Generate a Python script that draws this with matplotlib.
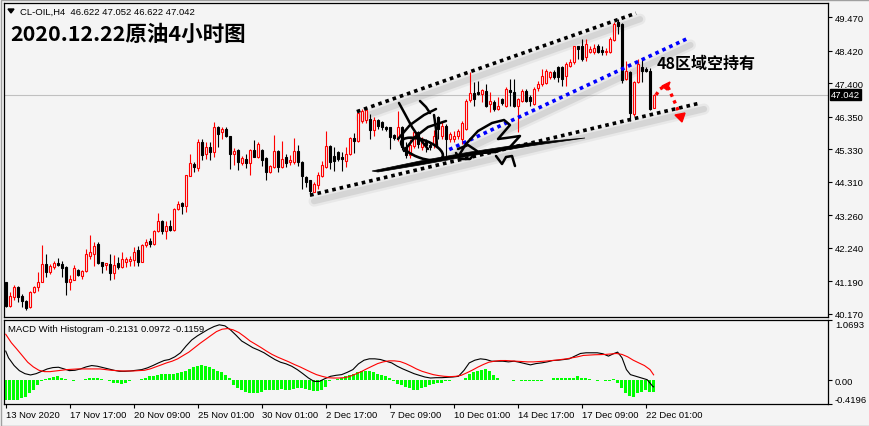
import matplotlib
matplotlib.use('Agg')
import matplotlib.pyplot as plt
from matplotlib.patches import Rectangle, Polygon, Ellipse
from matplotlib.lines import Line2D
from matplotlib.transforms import Affine2D, ScaledTranslation

# ---------------- data ----------------
opens = [41.18,40.42,40.68,41.00,40.74,40.56,40.37,40.86,41.00,41.17,
         41.73,41.47,41.63,41.76,41.73,41.65,41.17,41.24,41.55,41.35,
         41.50,41.99,42.04,42.36,41.78,41.71,41.73,41.44,41.76,41.63,
         41.78,41.83,41.86,42.16,41.80,42.31,42.46,42.36,42.77,43.07,
         42.77,42.93,42.80,43.46,43.64,43.54,44.50,44.87,44.74,45.57,
         45.18,45.40,45.23,46.02,45.88,45.96,45.76,45.18,45.30,44.90,
         45.02,44.90,45.30,45.09,45.30,45.05,44.61,44.78,45.28,44.78,
         45.09,44.92,44.92,45.28,44.92,44.45,44.37,44.00,44.21,44.50,
         44.76,45.43,45.13,45.23,45.08,44.97,45.18,45.68,45.60,46.22,
         46.26,46.28,45.93,46.26,46.17,46.04,46.02,45.78,45.69,46.02,
         45.41,45.15,45.44,45.86,45.40,45.56,45.46,45.49,46.33,45.76,
         46.07,45.66,45.66,45.76,45.66,45.96,46.87,47.09,47.13,47.06,
         47.17,46.75,46.82,46.60,46.91,46.70,47.19,47.14,46.70,46.86,
         47.17,46.96,46.75,47.24,47.37,47.42,47.59,47.77,47.90,47.90,
         47.64,47.95,48.06,48.56,48.56,48.21,48.39,48.37,48.56,48.44,
         48.37,48.37,48.77,49.31,49.26,47.54,47.75,46.44,47.43,47.90,
         47.85,47.80,46.622]
highs = [41.18,40.84,41.08,41.05,40.79,40.61,40.89,41.05,41.47,42.33,
         42.04,41.73,41.83,41.92,41.83,41.68,41.37,41.70,41.58,41.55,
         42.20,42.64,42.41,42.41,41.78,41.76,42.04,42.02,41.94,42.12,
         41.96,41.99,42.25,42.30,42.37,42.52,42.55,42.80,43.34,43.12,
         43.09,43.11,43.49,43.70,43.69,44.53,45.18,44.94,45.66,45.66,
         45.55,45.55,46.20,46.07,46.04,46.04,45.76,45.36,45.33,45.13,
         45.18,45.33,45.63,45.55,45.33,45.08,44.84,45.79,45.31,45.60,
         45.18,45.15,45.68,45.45,44.97,44.50,44.37,44.30,44.61,44.95,
         45.91,45.46,45.40,45.28,45.25,45.40,45.73,45.84,46.54,46.59,
         46.65,46.44,46.33,46.28,46.21,46.06,46.04,45.81,46.54,46.06,
         45.56,45.66,45.96,45.91,45.71,45.66,45.56,45.94,46.36,46.17,
         46.11,45.86,45.91,45.96,46.23,46.91,47.77,47.43,47.48,47.22,
         47.37,47.12,46.87,46.96,46.95,47.27,47.54,47.54,46.93,47.22,
         47.22,47.02,47.28,47.47,47.85,47.85,47.78,47.83,47.95,47.95,
         48.06,48.16,48.58,48.58,48.79,48.79,48.56,48.64,48.64,48.56,
         48.52,48.84,49.31,49.41,49.29,48.11,47.78,47.48,48.16,48.16,
         47.90,47.88,47.052]
lows = [40.39,40.39,40.60,40.53,40.37,40.30,40.35,40.83,40.89,41.15,
        41.32,41.42,41.57,41.68,41.32,40.77,40.90,41.22,41.34,41.26,
        41.47,41.89,41.68,41.73,41.45,41.54,41.24,41.26,41.58,41.60,
        41.64,41.68,41.68,41.66,41.78,42.27,42.25,42.34,42.74,42.67,
        42.50,42.78,42.78,43.41,43.30,43.36,44.48,44.63,44.66,44.99,
        45.02,45.00,45.08,45.40,45.66,45.71,44.71,44.84,44.68,44.84,
        44.74,44.53,45.08,45.05,44.82,44.38,44.58,44.75,44.61,44.73,
        44.76,44.84,44.87,44.82,44.08,44.13,43.85,43.98,44.08,44.45,
        44.73,44.71,44.66,44.95,44.66,44.76,45.15,45.21,45.56,46.16,
        46.16,45.66,45.76,45.96,45.93,45.91,45.34,45.61,45.60,45.31,
        45.05,45.05,45.36,45.36,45.31,45.25,45.31,45.36,45.66,45.66,
        45.02,45.56,45.56,45.66,45.50,45.92,46.82,46.70,47.02,46.80,
        46.65,46.49,46.54,46.57,46.72,46.65,46.70,46.65,45.86,46.82,
        46.82,46.70,46.72,47.17,47.33,47.38,47.53,47.53,47.44,47.33,
        47.33,47.90,48.00,48.16,48.11,48.11,48.34,48.32,48.34,48.29,
        48.29,48.34,48.74,48.95,47.42,47.49,46.22,46.38,47.41,47.43,
        47.76,46.57,46.622]
closes = [40.42,40.71,41.00,40.68,40.56,40.35,40.84,41.00,41.18,41.73,
          41.47,41.68,41.76,41.70,41.61,41.17,41.26,41.61,41.37,41.50,
          42.04,42.12,42.29,41.75,41.68,41.75,41.44,41.71,41.63,41.89,
          41.89,41.89,42.12,41.80,42.33,42.41,42.36,42.77,43.07,42.77,
          42.93,42.80,43.46,43.61,43.56,44.52,44.90,44.78,45.55,45.16,
          45.40,45.23,46.02,45.81,45.96,45.76,45.18,45.28,44.94,45.05,
          44.90,45.30,45.09,45.50,45.00,44.61,44.80,45.28,44.78,45.02,
          44.89,45.00,45.28,44.92,44.50,44.30,44.03,44.24,44.53,44.84,
          45.43,44.94,44.97,45.02,45.02,45.18,45.68,45.60,46.48,46.53,
          46.56,45.93,46.26,46.07,46.02,45.96,45.71,45.68,46.02,45.41,
          45.15,45.46,45.86,45.51,45.60,45.46,45.41,45.76,45.96,46.07,
          45.66,45.81,45.76,45.91,46.14,46.86,47.09,46.91,47.06,47.20,
          46.70,46.86,46.60,46.68,46.78,47.22,47.12,46.70,46.91,47.17,
          46.86,46.86,47.22,47.37,47.64,47.78,47.75,47.59,47.59,47.54,
          48.00,48.08,48.56,48.47,48.16,48.64,48.49,48.52,48.37,48.37,
          48.42,48.79,49.26,49.21,47.49,47.80,46.48,47.43,48.00,47.80,
          47.80,46.60,47.042]

hist = [-0.35,-0.35,-0.35,-0.34,-0.32,-0.29,-0.23,-0.17,-0.08,-0.02,
        0.02,0.04,0.06,0.07,0.04,0.02,0.0,-0.02,0.0,0.01,
        0.02,0.04,0.05,0.04,0.02,0.01,-0.02,-0.04,-0.05,-0.06,
        -0.04,-0.02,0.0,0.01,0.02,0.04,0.07,0.08,0.10,0.11,
        0.12,0.12,0.12,0.13,0.14,0.17,0.20,0.24,0.26,0.28,
        0.26,0.24,0.20,0.17,0.14,0.10,0.04,-0.08,-0.14,-0.17,
        -0.20,-0.22,-0.23,-0.23,-0.20,-0.17,-0.17,-0.18,-0.17,-0.16,
        -0.17,-0.17,-0.16,-0.14,-0.14,-0.16,-0.17,-0.19,-0.19,-0.17,
        -0.12,-0.02,0.01,0.02,0.04,0.07,0.10,0.12,0.14,0.16,
        0.17,0.16,0.14,0.12,0.09,0.07,0.04,-0.02,-0.06,-0.08,
        -0.12,-0.14,-0.17,-0.17,-0.14,-0.11,-0.08,-0.06,-0.05,-0.04,
        -0.02,-0.01,0.0,0.0,0.01,0.04,0.12,0.15,0.17,0.19,
        0.20,0.16,0.10,0.04,0.01,0.0,0.0,-0.01,0.0,-0.01,
        -0.01,-0.02,-0.02,-0.02,-0.01,0.0,0.01,0.04,0.05,0.04,
        0.05,0.04,0.05,0.07,0.05,0.04,0.02,0.01,
        -0.01,0.0,-0.02,-0.01,0.02,-0.04,-0.14,-0.22,-0.28,-0.29,
        -0.23,-0.20,-0.17,-0.20,-0.2131]

# MACD main line (black), sampled along the bar axis
macd_idx = [0,0.7,2.1,3.4,4.8,6.2,7.6,9.0,10.4,11.8,13.2,14.6,15.9,17.3,18.7,20.1,21.5,
            22.9,24.3,25.7,27.1,28.4,29.8,31.2,32.6,34.0,35.4,36.8,38.2,39.6,40.9,42.3,
            43.7,45.1,46.5,47.9,49.3,50.7,52.1,53.4,54.8,56.2,57.6,59.0,60.4,61.8,63.2,
            64.6,65.9,67.3,68.7,70.1,71.5,72.9,74.3,75.7,77.1,78.4,79.8,81.2,82.6,84.0,
            85.4,86.8,88.2,89.6,90.9,92.3,93.7,95.1,96.5,97.9,99.3,100.7,102.1,103.4,
            104.8,106.2,107.6,109.0,110.4,111.8,113.2,114.6,115.9,117.3,118.7,120.1,
            121.5,122.9,124.3,125.7,127.1,128.4,129.8,131.2,132.6,134.0,135.4,136.8,
            138.2,139.6,140.9,142.3,143.7,145.1,146.5,147.9,149.3,150.7,152.1,153.0,
            154.1,155.2,156.2,157.6,159.0,160.4,161.8,162]
macd_val = [0.518,0.399,0.262,0.172,0.118,0.095,0.118,0.160,0.202,0.226,0.232,0.202,
            0.172,0.178,0.202,0.238,0.262,0.250,0.226,0.202,0.178,0.160,0.160,0.166,
            0.178,0.190,0.220,0.262,0.309,0.351,0.369,0.417,0.488,0.608,0.715,0.787,
            0.847,0.906,0.954,0.984,0.966,0.894,0.799,0.697,0.638,0.578,0.536,0.488,
            0.429,0.369,0.321,0.292,0.250,0.190,0.118,0.041,-0.019,-0.019,0.029,0.071,
            0.089,0.101,0.142,0.190,0.292,0.357,0.381,0.381,0.369,0.339,0.309,0.250,
            0.202,0.160,0.118,0.089,0.059,0.041,0.047,0.047,0.053,0.059,0.071,0.178,
            0.309,0.357,0.381,0.369,0.339,0.339,0.339,0.327,0.339,0.321,0.297,0.274,
            0.297,0.309,0.327,0.351,0.357,0.369,0.381,0.429,0.476,0.488,0.488,0.488,
            0.471,0.429,0.476,0.500,0.399,0.190,0.101,0.071,0.041,0.011,-0.108,-0.1159]
# signal line (red)
sig_idx = [0,1.4,2.7,4.1,5.5,6.9,8.3,9.7,11.1,12.5,13.9,15.2,16.6,18.0,20.8,23.6,25.0,
           26.4,27.7,29.1,31.9,33.3,34.7,36.1,37.5,38.9,40.2,41.6,43.0,44.4,45.8,47.2,
           48.6,50.0,51.4,52.7,54.1,55.5,56.9,58.3,59.7,61.1,62.5,63.9,65.2,66.6,68.0,
           69.4,70.8,72.2,73.6,75.0,76.4,77.7,79.1,80.5,81.9,83.3,84.7,86.1,87.5,88.9,
           90.2,91.6,93.0,94.4,95.8,97.2,98.6,100.0,101.4,102.7,104.1,105.5,106.9,108.3,
           109.7,111.1,112.5,113.9,115.2,116.6,118.0,119.4,120.8,122.2,123.6,125.0,
           127.7,130.5,131.9,134.7,137.5,140.2,143.0,144.4,147.2,150.0,152.7,154.1,
           155.5,156.9,158.3,159.7,161.1,162]
sig_val = [0.817,0.667,0.560,0.441,0.321,0.238,0.178,0.154,0.154,0.166,0.178,0.190,
           0.196,0.202,0.202,0.202,0.190,0.178,0.172,0.166,0.166,0.172,0.178,0.202,
           0.238,0.274,0.309,0.339,0.381,0.441,0.500,0.578,0.656,0.727,0.799,0.864,
           0.906,0.918,0.894,0.847,0.775,0.697,0.638,0.578,0.518,0.459,0.411,0.369,
           0.327,0.280,0.238,0.190,0.142,0.101,0.071,0.047,0.041,0.041,0.047,0.071,
           0.112,0.154,0.202,0.250,0.297,0.327,0.345,0.345,0.333,0.297,0.250,0.202,
           0.160,0.130,0.101,0.083,0.071,0.065,0.071,0.089,0.130,0.178,0.232,0.280,
           0.321,0.339,0.351,0.351,0.339,0.327,0.327,0.339,0.357,0.381,0.417,0.441,
           0.453,0.459,0.476,0.459,0.417,0.357,0.309,0.262,0.190,0.0972]

price_ticks = [49.470, 48.420, 47.400, 46.350, 45.330, 44.310, 43.260, 42.240, 41.190, 40.170]
date_labels = ['13 Nov 2020', '17 Nov 17:00', '20 Nov 09:00', '25 Nov 01:00', '30 Nov 01:00',
               '2 Dec 17:00', '7 Dec 09:00', '10 Dec 01:00', '14 Dec 17:00', '17 Dec 09:00',
               '22 Dec 01:00']
last_price = 47.042

# channel lines (bar index, price)
upper_x, upper_y = [87.8, 157.6], [46.51, 49.60]
lower_x, lower_y = [76.1, 173.6], [43.89, 46.78]
blue_x, blue_y = [110.9, 170.2], [45.32, 48.79]

# ---------------- figure ----------------
W, H, DPI = 870, 427, 100
BG = '#f4f4f4'
fig = plt.figure(figsize=(W / DPI, H / DPI), dpi=DPI)
fig.patch.set_facecolor(BG)
PX = Affine2D().scale(1, -1).translate(0, H)  # pixel coords (top-left origin)
TXT = ['Liberation Sans', 'DejaVu Sans']
CJK = ['Noto Sans CJK SC', 'DejaVu Sans']


def box(x0, y0, x1, y1):
    return [x0 / W, 1 - y1 / H, (x1 - x0) / W, (y1 - y0) / H]


ax = fig.add_axes(box(4, 4, 828, 318))
axm = fig.add_axes(box(4, 321, 828, 405))
for a in (ax, axm):
    a.set_facecolor(BG)
    for s in a.spines.values():
        s.set_linewidth(0.9)
        s.set_color('black')
    a.set_xlim(-0.43, 205.6)

ax.set_ylim(40.066, 49.92)
ax.yaxis.tick_right()
ax.set_yticks(price_ticks)
ax.set_yticklabels(['%.3f' % v for v in price_ticks])
ax.tick_params(axis='y', length=3, width=0.8, pad=2, labelsize=6.8)
ax.set_xticks([])
for t in ax.get_yticklabels():
    t.set_family(TXT)

# last price line
ax.axhline(last_price, color='#c0c0c0', lw=0.8, zorder=1)

# candles
n = len(closes)
for i in range(n):
    o, h, l, c = opens[i], highs[i], lows[i], closes[i]
    up = c >= o
    col = '#ff0000' if up else 'black'
    ax.plot([i, i], [l, h], color=col, lw=0.8, zorder=3, solid_capstyle='butt')
    bot, top = min(o, c), max(o, c)
    hgt = max(top - bot, 0.02)
    ax.add_patch(Rectangle((i - 0.28, bot), 0.56, hgt,
                           facecolor=BG if up else 'black', edgecolor=col,
                           lw=0.8, zorder=4))

# price label box
ax.annotate('%.3f' % last_price, xy=(1.0, last_price), xycoords=('axes fraction', 'data'),
            xytext=(3, 0), textcoords='offset pixels', ha='left', va='center',
            color='white', fontsize=6.8, family=TXT,
            bbox=dict(boxstyle='square,pad=0.12', fc='black', ec='black'),
            annotation_clip=False, zorder=10)

# channel lines with soft shadow
shadow_off = ScaledTranslation(4 / DPI, -6 / DPI, fig.dpi_scale_trans)
for xs, ys, col in ((upper_x, upper_y, 'black'), (lower_x, lower_y, 'black'),
                    (blue_x, blue_y, '#0000ff')):
    for lw, al in ((8, 0.10), (4.5, 0.18)):
        ax.plot(xs, ys, color='#808080', lw=lw, alpha=al, solid_capstyle='round',
                transform=ax.transData + shadow_off, zorder=2)
    ax.plot(xs, ys, color=col, lw=2.6, ls=(0, (1, 1.1)), dash_capstyle='butt', zorder=6)

# signature (decorative handwriting)
sig_strokes = [
    [(399, 104), (405, 115), (412, 128), (420, 140), (428, 150)],
    [(420, 102), (426, 108), (430, 114)],
    [(434, 116), (436, 130), (437, 148)],
    [(398, 140), (410, 126), (424, 116), (436, 110)],
    [(404, 152), (415, 138), (428, 128), (446, 122)],
    [(458, 158), (466, 145), (478, 132), (492, 124), (504, 121), (510, 126), (498, 140),
     (506, 139), (520, 137), (510, 148), (495, 153), (480, 154)],
    [(458, 150), (468, 146), (477, 152), (470, 160), (460, 160), (456, 154)],
    [(496, 157), (502, 165), (506, 158), (512, 157), (515, 167)],
]
for st in sig_strokes:
    xs = [p[0] for p in st]
    ys = [p[1] for p in st]
    fig.add_artist(Line2D(xs, ys, color='black', lw=1.8, transform=PX,
                          solid_capstyle='round', solid_joinstyle='round', zorder=7))
fig.add_artist(Polygon([(372, 172), (420, 162), (470, 153), (530, 144), (585, 139),
                        (530, 147), (470, 157), (420, 166), (378, 173)], closed=True,
                       fc='black', ec='black', lw=0.5, transform=PX, zorder=7))
fig.add_artist(Ellipse((422, 150), 44, 18, angle=20, fill=False, ec='black', lw=1.9,
                       transform=PX, zorder=7))

# red dotted arrows
fig.add_artist(Line2D([656, 660, 665], [96, 90, 87], color='red', lw=2.4,
                      ls=(0, (1, 1.2)), transform=PX, zorder=8))
fig.add_artist(Line2D([668, 672, 676, 679], [88, 97, 106, 114], color='red', lw=2.4,
                      ls=(0, (1, 1.2)), transform=PX, zorder=8))
fig.add_artist(Polygon([(662, 87), (670, 83), (667, 91)], closed=True, fc='red', ec='red',
                       transform=PX, zorder=8))
fig.add_artist(Polygon([(675, 116), (685, 114), (682, 123)], closed=True, fc='red', ec='red',
                       transform=PX, zorder=8))

# texts on main pane
fig.add_artist(Polygon([(8, 10), (14, 10), (11, 14)], closed=True, fc='black', ec='black',
                       transform=PX))
fig.text(20 / W, 1 - 12 / H, 'CL-OIL,H4  46.622 47.052 46.622 47.042', fontsize=6.8,
         family=TXT, va='center', ha='left')
fig.text(10 / W, 1 - 34 / H, '2020.12.22原油4小时图', fontsize=15.5, fontweight='bold',
         family=CJK, va='center', ha='left')
fig.text(657 / W, 1 - 64 / H, '48区域空持有', fontsize=11.5, fontweight='bold',
         family=CJK, va='center', ha='left')

# ---------------- MACD pane ----------------
axm.set_ylim(-0.4196, 1.0693)
axm.bar(range(len(hist)), hist, width=0.7, color='#00ff00', zorder=2)
axm.plot(macd_idx, macd_val, color='black', lw=0.8, zorder=3)
axm.plot(sig_idx, sig_val, color='red', lw=0.8, zorder=3)
axm.yaxis.tick_right()
axm.set_yticks([1.0693, 0.0, -0.4196])
axm.set_yticklabels(['1.0693', '0.00', '-0.4196'])
axm.tick_params(axis='y', length=3, width=0.8, pad=2, labelsize=6.8)
yl = axm.get_yticklabels()
yl[0].set_va('top')
yl[2].set_va('bottom')
for t in yl:
    t.set_family(TXT)
axm.set_xticks([16 * k for k in range(len(date_labels))])
axm.set_xticklabels(date_labels)
axm.tick_params(axis='x', length=3, width=0.8, pad=1, labelsize=6.8)
for t in axm.get_xticklabels():
    t.set_ha('left')
    t.set_family(TXT)
axm.text(4 / 824, 0.95, 'MACD With Histogram -0.2131 0.0972 -0.1159',
         transform=axm.transAxes, fontsize=6.8, family=TXT, va='top', ha='left')

# window border
fig.add_artist(Rectangle((0.5, 0.5), W - 1, H - 1, fill=False, ec='#a0a0a0', lw=1,
                         transform=PX))

fig.savefig('out.png', dpi=DPI, facecolor=BG)
